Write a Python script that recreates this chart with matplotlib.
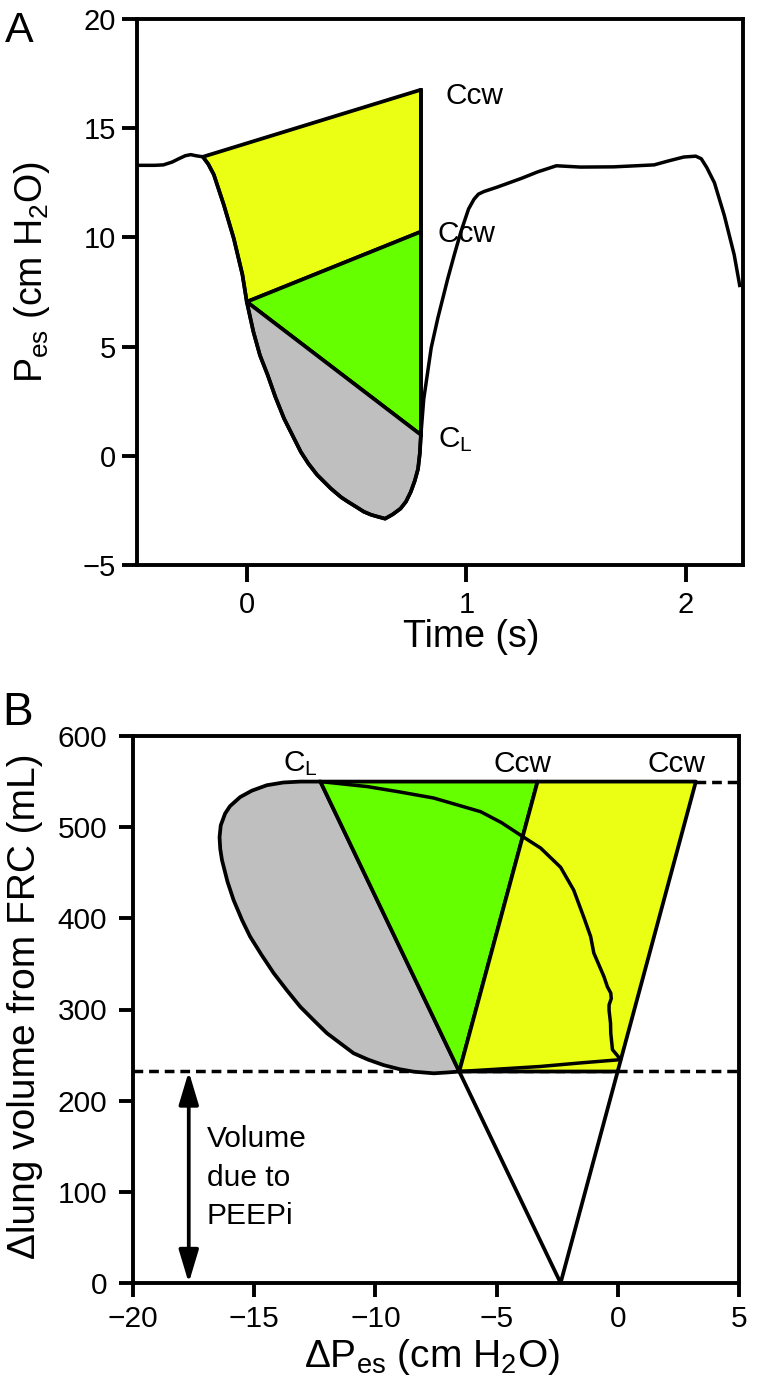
import numpy as np
import matplotlib
matplotlib.use('Agg')
import matplotlib.pyplot as plt
from matplotlib.patches import Polygon

plt.rcParams['font.family'] = ['Liberation Sans', 'DejaVu Sans']
plt.rcParams['mathtext.fontset'] = 'custom'
plt.rcParams['mathtext.rm'] = 'Liberation Sans'
plt.rcParams['mathtext.it'] = 'Liberation Sans:italic'
plt.rcParams['mathtext.bf'] = 'Liberation Sans:bold'

# ---------------- Panel A data (Pes vs time) ----------------
time_s = [-0.50, -0.42, -0.38, -0.34, -0.31, -0.28, -0.255, -0.232, -0.20,
          -0.175, -0.15, -0.105, -0.059, -0.02, 0.0,
          0.03, 0.06, 0.095, 0.13, 0.17, 0.21, 0.246, 0.28, 0.32, 0.383, 0.43,
          0.46, 0.50, 0.533, 0.566, 0.597, 0.63, 0.665, 0.70, 0.725, 0.747,
          0.765, 0.78, 0.788, 0.793,
          0.806, 0.84, 0.87, 0.915, 0.945, 0.975, 1.01, 1.035, 1.055, 1.08, 1.14,
          1.25, 1.325, 1.41, 1.52, 1.67, 1.855, 1.92, 1.99, 2.045, 2.07, 2.095, 2.13,
          2.175, 2.22, 2.245]
pes_cm = [13.30, 13.30, 13.32, 13.45, 13.60, 13.74, 13.79, 13.74, 13.69,
          13.35, 12.87, 11.5, 9.94, 8.3, 7.05,
          5.68, 4.6, 3.7, 2.7, 1.7, 0.9, 0.18, -0.35, -0.87, -1.5, -1.9,
          -2.1, -2.35, -2.56, -2.7, -2.79, -2.88, -2.68, -2.42, -2.1, -1.65,
          -1.15, -0.6, 0.1, 0.96,
          2.6, 4.95, 6.3, 8.1, 9.2, 10.25, 11.3, 11.75, 11.98, 12.1, 12.3,
          12.7, 13.0, 13.28, 13.22, 13.23, 13.32, 13.5, 13.68, 13.72, 13.6, 13.2, 12.5,
          11.0, 9.2, 7.8]
t_insp_start = -0.20
t_zero = 0.0
t_insp_end = 0.793
pes_ccw_top = 16.76
pes_ccw_mid = 10.26
pes_cl = 0.96
pes_zero = 7.05

# ---------------- Panel B data (volume vs dPes) ----------------
vol_peepi = 232
vol_end = 550
p_apex = -2.36
p_cl_top = -12.27
p_ccw_mid_top = -3.31
p_ccw_top = 3.22
loop_p = [-12.27, -13.1, -13.8, -14.48, -15.1, -15.58, -16.0, -16.2, -16.38,
          -16.43, -16.4, -16.33, -16.1, -15.85, -15.5, -15.17, -14.7, -14.2,
          -13.65, -13.1, -12.5, -12.0, -11.4, -10.9, -10.3, -9.66, -9.0, -8.42,
          -7.59, -7.0, -6.54]
loop_v = [550, 550, 549, 546, 540, 533, 523, 515, 502,
          489, 476, 464, 440, 420, 398, 380, 360, 340,
          321, 303, 287, 274, 262, 252, 245, 239, 234.5, 231.8,
          230, 231, 232]
trace_p = [-12.27, -10.33, -8.97, -7.6, -5.66, -4.8, -4.0, -3.18, -2.36, -1.82,
           -1.4, -1.12, -0.99, -0.57, -0.43, -0.29, -0.27, -0.36, -0.36, -0.30,
           -0.29, -0.22, 0.12, -1.5, -3.2, -5.0, -6.54]
trace_v = [550, 544.5, 538.5, 532, 517, 505, 491, 477, 456, 431,
           401, 380, 362, 336, 325, 318, 312, 305, 299, 285,
           274, 256, 245, 241.5, 237.5, 234.5, 232]

YELLOW = '#EBFF14'
GREEN = '#66FF00'
GRAY = '#BFBFBF'
LW = 2.7
TLW = 2.5
SLW = 2.8

fig = plt.figure(figsize=(7.76, 13.91), dpi=100)
axA = fig.add_axes([137/776, 1-565/1391, 606/776, 546/1391])
axB = fig.add_axes([133/776, 1-1283/1391, 606/776, 547/1391])

# ---------------- Panel A ----------------
t = np.array(time_s)
p = np.array(pes_cm)
seg1 = (t >= t_insp_start) & (t <= t_zero)
seg2 = (t >= t_zero) & (t <= t_insp_end)

yel = [(t_insp_start, p[t == t_insp_start][0]), (t_insp_end, pes_ccw_top),
       (t_insp_end, pes_ccw_mid), (t_zero, pes_zero)]
yel += list(zip(t[seg1][::-1], p[seg1][::-1]))
axA.add_patch(Polygon(yel, closed=True, facecolor=YELLOW, edgecolor='k',
                      lw=LW, joinstyle='round', zorder=2))
grn = [(t_zero, pes_zero), (t_insp_end, pes_ccw_mid), (t_insp_end, pes_cl)]
axA.add_patch(Polygon(grn, closed=True, facecolor=GREEN, edgecolor='k',
                      lw=LW, joinstyle='round', zorder=2))
gry = list(zip(t[seg2], p[seg2]))
axA.add_patch(Polygon(gry, closed=True, facecolor=GRAY, edgecolor='k',
                      lw=LW, joinstyle='round', zorder=2))
axA.plot([t_insp_end, t_insp_end], [pes_cl, pes_ccw_top], color='k', lw=LW,
         solid_capstyle='projecting', zorder=3)
axA.plot(t, p, color='k', lw=TLW, zorder=4, solid_joinstyle='round')

axA.text(0.907, 16.12, 'Ccw', fontsize=21.5, ha='left', va='baseline')
axA.text(0.87, 9.8, 'Ccw', fontsize=21.5, ha='left', va='baseline')
axA.text(0.87, 0.41, r'C$_\mathregular{L}$', fontsize=21.5, ha='left', va='baseline')

axA.set_xlim(-0.5, 2.26)
axA.set_ylim(-5, 20)
axA.set_xticks([0, 1, 2])
axA.set_yticks([-5, 0, 5, 10, 15, 20])
axA.set_xlabel('Time (s)', fontsize=27)
axA.set_ylabel(r'P$_\mathregular{es}$ (cm H$_\mathregular{2}$O)', fontsize=27)
axA.xaxis.set_label_coords(0.551, -0.099)
axA.yaxis.set_label_coords(-0.14, 0.537)
axA.tick_params(axis='both', direction='out', width=SLW, labelsize=21)
axA.tick_params(axis='x', length=12, pad=7)
axA.tick_params(axis='y', length=11, pad=4)

# ---------------- Panel B ----------------
p_cl_peepi = np.interp(vol_peepi, [0, vol_end], [p_apex, p_cl_top])
p_ccw_peepi = np.interp(vol_peepi, [0, vol_end], [p_apex, p_ccw_top])

dash = (0, (2.8, 1.7))
axB.plot([-20, 5], [vol_peepi, vol_peepi], color='k', lw=TLW, ls=dash, zorder=1)
axB.plot([p_ccw_top, 5], [vol_end, vol_end], color='k', lw=TLW, ls=dash, zorder=1)

gry_b = list(zip(loop_p, loop_v))
axB.add_patch(Polygon(gry_b, closed=True, facecolor=GRAY, edgecolor='k',
                      lw=LW, joinstyle='round', zorder=2))
grn_b = [(p_cl_top, vol_end), (p_ccw_mid_top, vol_end), (p_cl_peepi, vol_peepi)]
axB.add_patch(Polygon(grn_b, closed=True, facecolor=GREEN, edgecolor='k',
                      lw=LW, joinstyle='round', zorder=2))
yel_b = [(p_cl_peepi, vol_peepi), (p_ccw_mid_top, vol_end), (p_ccw_top, vol_end),
         (p_ccw_peepi, vol_peepi)]
axB.add_patch(Polygon(yel_b, closed=True, facecolor=YELLOW, edgecolor='k',
                      lw=LW, joinstyle='round', zorder=2))
axB.plot([p_cl_peepi, p_apex, p_ccw_peepi], [vol_peepi, 0, vol_peepi],
         color='k', lw=LW, zorder=3, solid_joinstyle='miter')
axB.plot(trace_p, trace_v, color='k', lw=TLW, zorder=4, solid_joinstyle='round')

axB.annotate('', xy=(-17.7, 0), xytext=(-17.7, vol_peepi),
             arrowprops=dict(arrowstyle='<|-|>,head_length=1.0,head_width=0.3',
                             mutation_scale=20, lw=LW, color='k',
                             shrinkA=0, shrinkB=0), zorder=5)
axB.text(-16.95, 173, 'Volume\ndue to\nPEEPi', fontsize=21.5, ha='left',
         va='top', linespacing=1.47)

axB.text(-13.8, 561, r'C$_\mathregular{L}$', fontsize=21.5, ha='left', va='baseline')
axB.text(-5.12, 560, 'Ccw', fontsize=21.5, ha='left', va='baseline')
axB.text(1.24, 560, 'Ccw', fontsize=21.5, ha='left', va='baseline')

axB.set_xlim(-20, 5)
axB.set_ylim(0, 600)
axB.set_xticks([-20, -15, -10, -5, 0, 5])
axB.set_yticks([0, 100, 200, 300, 400, 500, 600])
axB.set_xlabel(r'ΔP$_\mathregular{es}$ (cm H$_\mathregular{2}$O)', fontsize=28)
axB.set_ylabel('Δlung volume from FRC (mL)', fontsize=28)
axB.xaxis.set_label_coords(0.493, -0.0987)
axB.yaxis.set_label_coords(-0.1485, 0.506)
axB.tick_params(axis='both', direction='out', width=SLW, labelsize=21.5, length=10)
axB.tick_params(axis='x', pad=6)
axB.tick_params(axis='y', pad=8.5)

for ax in (axA, axB):
    for sp in ax.spines.values():
        sp.set_linewidth(SLW)

fig.text(5/776, 1-42/1391, 'A', fontsize=31, ha='left', va='baseline')
fig.text(2/776, 1-725/1391, 'B', fontsize=33, ha='left', va='baseline')

fig.savefig('out.png', dpi=100)
